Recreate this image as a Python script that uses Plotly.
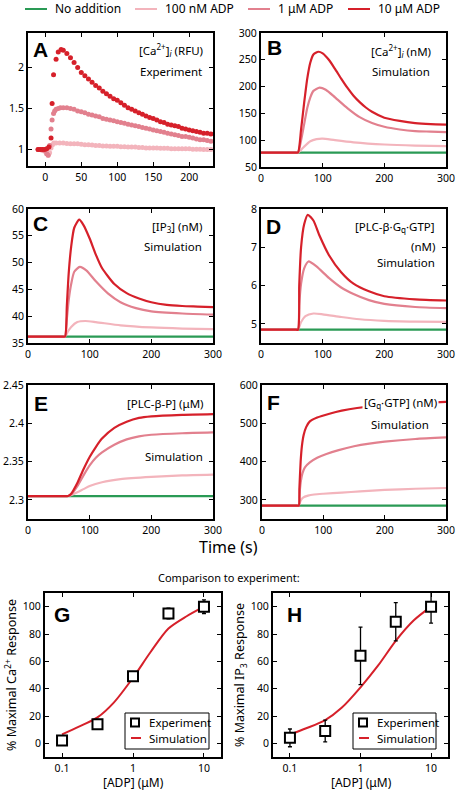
import plotly.graph_objects as go

W, H = 456, 790
FONT = "Noto Sans"

# ---------------- data ----------------
series_names = ["No addition", "100 nM ADP", "1 \u03bcM ADP", "10 \u03bcM ADP"]
series_colors = ["#2a9a55", "#f3b4bc", "#e2808e", "#d6202a"]

# Panel A: experiment [Ca2+]i (RFU)
a_t_100n = [-10, -7, -4, -1, 2, 4, 6, 8, 10, 12, 15, 20, 25, 30, 35, 40, 45, 50, 55, 60, 65, 70, 75, 80, 85, 90, 95, 100,
            105, 110, 115, 120, 125, 130, 135, 140, 145, 150, 155, 160, 165, 170, 175, 180, 185, 190, 195, 200,
            205, 210, 215, 220, 225, 230, 235]
a_v_100n = [1.0, 1.0, 0.99, 0.98, 0.95, 0.93, 0.96, 1.02, 1.06, 1.08, 1.08, 1.08, 1.08, 1.075, 1.07, 1.07, 1.07, 1.065,
            1.06, 1.06, 1.055, 1.05, 1.05, 1.045, 1.045, 1.04, 1.04, 1.04, 1.035, 1.035, 1.03, 1.03, 1.03, 1.025,
            1.025, 1.02, 1.02, 1.02, 1.02, 1.015, 1.015, 1.015, 1.01, 1.01, 1.01, 1.01, 1.01, 1.01, 1.005, 1.005,
            1.005, 1.0, 1.0, 1.0, 1.0]
a_t_1u = [-10, -7, -4, -1, 2, 4, 6, 8, 9.5, 11.5, 13, 15, 18, 21, 25, 30, 35, 40, 45, 50, 55, 60, 65, 70, 75, 80, 85, 90,
          95, 100, 105, 110, 115, 120, 125, 130, 135, 140, 145, 150, 155, 160, 165, 170, 175, 180, 185, 190, 195,
          200, 205, 210, 215, 220, 225, 230, 235]
a_v_1u = [1.0, 1.0, 1.0, 0.99, 0.95, 0.93, 1.05, 1.25, 1.36, 1.44, 1.47, 1.49, 1.50, 1.51, 1.51, 1.51, 1.50, 1.49,
          1.47, 1.46, 1.45, 1.43, 1.42, 1.41, 1.40, 1.38, 1.37, 1.36, 1.35, 1.34, 1.33, 1.32, 1.31, 1.30, 1.29,
          1.28, 1.27, 1.26, 1.25, 1.24, 1.23, 1.22, 1.21, 1.20, 1.19, 1.18, 1.17, 1.16, 1.16, 1.15, 1.14, 1.13,
          1.12, 1.12, 1.11, 1.10, 1.10]
a_t_10u = [-10, -7, -4, -1, 2, 5, 8, 9.5, 11.5, 15, 18, 22, 25, 30, 35, 40, 45, 50, 55, 60, 65, 70, 75, 80, 85, 90, 95,
           100, 105, 110, 115, 120, 125, 130, 135, 140, 145, 150, 155, 160, 165, 170, 175, 180, 185, 190, 195, 200,
           205, 210, 215, 220, 225, 230, 235]
a_v_10u = [1.0, 1.0, 1.0, 1.0, 1.01, 1.03, 1.14, 1.56, 1.91, 2.10, 2.19, 2.22, 2.21, 2.17, 2.12, 2.06, 2.00, 1.94,
           1.90, 1.86, 1.82, 1.78, 1.75, 1.71, 1.68, 1.65, 1.62, 1.60, 1.57, 1.54, 1.51, 1.49, 1.47, 1.45, 1.43,
           1.41, 1.39, 1.38, 1.36, 1.34, 1.33, 1.31, 1.30, 1.29, 1.28, 1.26, 1.25, 1.24, 1.23, 1.22, 1.21, 1.20,
           1.20, 1.19, 1.19]

# Panel B: simulated [Ca2+]i (nM)
b_t_none = [0, 300]
b_v_none = [77, 77]
b_t_100n = [0, 55, 60, 65, 70, 80, 90, 100, 120, 150, 200, 250, 300]
b_v_100n = [77, 77, 77, 82, 88, 98, 102, 103, 100, 96, 92, 90, 89]
b_t_1u = [0, 55, 60, 65, 70, 75, 80, 85, 95, 105, 120, 140, 160, 180, 200, 225, 250, 275, 300]
b_v_1u = [77, 77, 77, 100, 130, 160, 180, 192, 198, 194, 180, 160, 143, 132, 125, 120, 117, 116, 115]
b_t_10u = [0, 55, 60, 65, 70, 75, 80, 85, 93, 100, 110, 120, 130, 140, 150, 160, 170, 180, 200, 225, 250, 275, 300]
b_v_10u = [77, 77, 77, 120, 170, 215, 245, 260, 265, 262, 250, 233, 215, 198, 183, 171, 161, 153, 142, 136, 132,
           130, 129]

# Panel C: simulated [IP3] (nM)
c_t_none = [0, 300]
c_v_none = [36.2, 36.2]
c_t_100n = [0, 55, 60, 65, 70, 80, 93, 110, 150, 200, 250, 300]
c_v_100n = [36.2, 36.2, 36.2, 37.2, 38.0, 38.9, 39.1, 38.9, 38.3, 37.9, 37.7, 37.6]
c_t_1u = [0, 55, 60, 63, 66, 70, 75, 84, 95, 110, 130, 150, 175, 200, 250, 300]
c_v_1u = [36.2, 36.2, 36.2, 39.5, 43.0, 46.0, 48.3, 49.2, 48.5, 46.5, 44.2, 42.6, 41.5, 40.9, 40.5, 40.3]
c_t_10u = [0, 55, 60, 63, 66, 70, 75, 83, 90, 100, 110, 120, 140, 160, 180, 200, 225, 250, 275, 300]
c_v_10u = [36.2, 36.2, 36.2, 42.0, 48.0, 53.0, 56.5, 58.0, 57.0, 54.5, 51.5, 49.0, 46.0, 44.3, 43.3, 42.6, 42.1,
           41.9, 41.8, 41.7]

# Panel D: simulated [PLC-b.Gq.GTP] (nM)
d_t_none = [0, 300]
d_v_none = [4.85, 4.85]
d_t_100n = [0, 55, 60, 65, 72, 85, 100, 130, 160, 200, 250, 300]
d_v_100n = [4.85, 4.85, 4.85, 5.05, 5.20, 5.27, 5.25, 5.18, 5.12, 5.08, 5.06, 5.05]
d_t_1u = [0, 55, 60, 62, 65, 70, 77, 90, 110, 130, 150, 175, 200, 250, 300]
d_v_1u = [4.85, 4.85, 4.85, 5.50, 6.05, 6.45, 6.63, 6.50, 6.20, 5.95, 5.78, 5.62, 5.52, 5.44, 5.41]
d_t_10u = [0, 55, 60, 62, 65, 70, 76, 85, 95, 110, 130, 150, 175, 200, 250, 300]
d_v_10u = [4.85, 4.85, 4.85, 6.00, 7.00, 7.60, 7.85, 7.70, 7.30, 6.80, 6.35, 6.05, 5.85, 5.72, 5.64, 5.61]

# Panel E: simulated [PLC-b-P] (uM)
e_t_none = [0, 300]
e_v_none = [2.305, 2.305]
e_t_100n = [0, 60, 65, 75, 90, 100, 120, 150, 200, 250, 300]
e_v_100n = [2.305, 2.305, 2.305, 2.308, 2.314, 2.318, 2.323, 2.327, 2.330, 2.332, 2.333]
e_t_1u = [0, 60, 65, 70, 80, 90, 100, 110, 120, 140, 160, 180, 200, 250, 300]
e_v_1u = [2.305, 2.305, 2.305, 2.307, 2.318, 2.332, 2.345, 2.355, 2.362, 2.372, 2.379, 2.383, 2.385, 2.387, 2.388]
e_t_10u = [0, 60, 65, 70, 80, 90, 100, 110, 120, 140, 160, 180, 200, 250, 300]
e_v_10u = [2.305, 2.305, 2.305, 2.308, 2.322, 2.340, 2.356, 2.369, 2.380, 2.394, 2.402, 2.407, 2.409, 2.411, 2.412]

# Panel F: simulated [Gq.GTP] (nM)
f_t_none = [0, 300]
f_v_none = [285, 285]
f_t_100n = [0, 55, 60, 63, 67, 75, 85, 100, 130, 160, 200, 250, 300]
f_v_100n = [285, 285, 285, 298, 306, 311, 314, 316, 319, 322, 326, 329, 331]
f_t_1u = [0, 55, 60, 61, 63, 66, 70, 78, 90, 105, 125, 150, 175, 200, 250, 300]
f_v_1u = [285, 285, 285, 310, 345, 370, 385, 398, 410, 420, 430, 440, 447, 452, 459, 463]
f_t_10u = [0, 55, 60, 61, 63, 65, 68, 72, 78, 90, 110, 130, 155, 200, 250, 300]
f_v_10u = [285, 285, 285, 330, 400, 440, 470, 490, 505, 515, 525, 533, 540, 548, 553, 556]

# Panels G, H: dose response
adp_exp = [0.1, 0.316, 1.0, 3.16, 10.0]
g_exp = [2, 14, 49, 95, 100]
g_err = [1.5, 3.5, 3.5, 4, 5]
adp_sim = [0.1, 0.17, 0.316, 0.54, 1.0, 1.78, 3.16, 5.7, 10.0]
g_sim = [6.5, 12, 19, 30, 48, 67, 84, 93, 100]
h_exp = [4, 9, 64, 89, 100]
h_err = [6.5, 8, 21, 14, 12]
h_sim = [6.5, 11, 17, 26, 41, 57, 75, 90, 100]


# ---------------- helpers ----------------
def px(x):
    return x / W


def py(y):
    return 1 - y / H


fig = go.Figure()

panels = {
    "A": (1, (28, 213), (33, 166), [-24, 233], [0.8, 2.42], [1, 1.5, 2]),
    "B": (2, (261, 446), (33, 167), [0, 300], [50, 300], [50, 100, 150, 200, 250, 300]),
    "C": (3, (28, 213), (209, 343), [0, 300], [35, 60], [35, 40, 45, 50, 55, 60]),
    "D": (4, (261, 446), (209, 343), [0, 300], [4.5, 8], [5, 6, 7, 8]),
    "E": (5, (28, 213), (385, 519), [0, 300], [2.275, 2.45], [2.3, 2.35, 2.4, 2.45]),
    "F": (6, (262, 446), (385, 519), [0, 300], [250, 600], [300, 400, 500, 600]),
}

tickfont = dict(family=FONT, size=10.5, color="black")
axis_common = dict(ticks="inside", ticklen=4, tickwidth=1, tickcolor="black",
                   showline=True, linewidth=2, linecolor="black", mirror="ticks",
                   showgrid=False, zeroline=False)
layout_axes = {}
for name, (i, xr, yr, xrange_, yrange_, yt) in panels.items():
    sfx = "" if i == 1 else str(i)
    xt = [0, 50, 100, 150, 200] if name == "A" else [0, 100, 200, 300]
    layout_axes["xaxis" + sfx] = dict(
        domain=[px(xr[0]), px(xr[1])], range=xrange_, anchor="y" + sfx,
        tickvals=xt, tickfont=tickfont, **axis_common)
    layout_axes["yaxis" + sfx] = dict(
        domain=[py(yr[1]), py(yr[0])], range=yrange_, anchor="x" + sfx,
        tickvals=yt, tickfont=tickfont, **axis_common)

for i, xr, ytitle in [(7, (45, 221), "% Maximal Ca<sup>2+</sup> Response"),
                      (8, (273, 448), "% Maximal IP<sub>3</sub> Response")]:
    sfx = str(i)
    layout_axes["xaxis" + sfx] = dict(
        domain=[px(xr[0]), px(xr[1])], type="log", range=[-1.24, 1.24], anchor="y" + sfx,
        tickvals=[0.1, 1, 10], ticktext=["0.1", "1", "10"],
        tickfont=dict(family=FONT, size=10.5, color="black"),
        **axis_common)
    layout_axes["yaxis" + sfx] = dict(
        domain=[py(757), py(593)], range=[-10, 110], anchor="x" + sfx,
        tickvals=[0, 20, 40, 60, 80, 100],
        tickfont=dict(family=FONT, size=10.5, color="black"),
        title=dict(text=ytitle, font=dict(family=FONT, size=12.5, color="black"), standoff=3),
        **axis_common)

# ---------------- traces ----------------
for t, v, c, nm in [(a_t_100n, a_v_100n, series_colors[1], series_names[1]),
                    (a_t_1u, a_v_1u, series_colors[2], series_names[2]),
                    (a_t_10u, a_v_10u, series_colors[3], series_names[3])]:
    fig.add_trace(go.Scatter(x=t, y=v, mode="markers", marker=dict(size=5, color=c), name=nm,
                             xaxis="x", yaxis="y", showlegend=False))

sim = {
    2: [(b_t_none, b_v_none), (b_t_100n, b_v_100n), (b_t_1u, b_v_1u), (b_t_10u, b_v_10u)],
    3: [(c_t_none, c_v_none), (c_t_100n, c_v_100n), (c_t_1u, c_v_1u), (c_t_10u, c_v_10u)],
    4: [(d_t_none, d_v_none), (d_t_100n, d_v_100n), (d_t_1u, d_v_1u), (d_t_10u, d_v_10u)],
    5: [(e_t_none, e_v_none), (e_t_100n, e_v_100n), (e_t_1u, e_v_1u), (e_t_10u, e_v_10u)],
    6: [(f_t_none, f_v_none), (f_t_100n, f_v_100n), (f_t_1u, f_v_1u), (f_t_10u, f_v_10u)],
}
for i, lst in sim.items():
    for k, (t, v) in enumerate(lst):
        fig.add_trace(go.Scatter(
            x=t, y=v, mode="lines", line=dict(color=series_colors[k], width=2.2, shape="spline", smoothing=0.6),
            xaxis="x%d" % i, yaxis="y%d" % i, showlegend=False, name=series_names[k]))

for i, ev, ee, sv in [(7, g_exp, g_err, g_sim), (8, h_exp, h_err, h_sim)]:
    fig.add_trace(go.Scatter(
        x=adp_sim, y=sv, mode="lines", name="Simulation",
        line=dict(color="#d6202a", width=2, shape="spline", smoothing=0.8),
        xaxis="x%d" % i, yaxis="y%d" % i, showlegend=False))
    fig.add_trace(go.Scatter(
        x=adp_exp, y=ev, mode="markers", name="Experiment",
        error_y=dict(type="data", array=ee, color="black", thickness=1.3, width=2),
        marker=dict(symbol="square", size=10, color="white", line=dict(color="black", width=2)),
        xaxis="x%d" % i, yaxis="y%d" % i, showlegend=False))

# ---------------- annotations & legend decorations ----------------
ann = []
shapes = []


def txt(x, y, s, size=11.5, anchor="right", **kw):
    ann.append(dict(x=px(x), y=py(y), xref="paper", yref="paper", text=s, showarrow=False,
                    xanchor=anchor, yanchor="middle", font=dict(family=FONT, size=size, color="black"), **kw))


def letter(x, y, s):
    ann.append(dict(x=px(x), y=py(y), xref="paper", yref="paper", text="<b>%s</b>" % s, showarrow=False,
                    xanchor="left", yanchor="middle",
                    font=dict(family="Liberation Sans", size=21, color="black")))


def hline(x0, x1, y, color, width=2):
    shapes.append(dict(type="line", xref="paper", yref="paper", x0=px(x0), x1=px(x1), y0=py(y), y1=py(y),
                       line=dict(color=color, width=width)))


# top legend
for (x0, name, col) in zip([25, 135, 248, 348], series_names, series_colors):
    hline(x0, x0 + 22, 9, col, 2)
    txt(x0 + 28, 9, name, size=12, anchor="left")

# G/H legends
for (bx0, bx1) in [(125, 209), (353, 436)]:
    shapes.append(dict(type="rect", xref="paper", yref="paper", x0=px(bx0), x1=px(bx1), y0=py(749), y1=py(713),
                       line=dict(color="black", width=1), fillcolor="white", layer="above"))
    sq = bx0 + 10
    shapes.append(dict(type="rect", xref="paper", yref="paper", x0=px(sq - 4), x1=px(sq + 4),
                       y0=py(726.5), y1=py(718.5), line=dict(color="black", width=2), fillcolor="white",
                       layer="above"))
    hline(bx0 + 6, bx0 + 16, 738, "#d6202a", 2)
    txt(bx0 + 22, 722, "Experiment", size=11.5, anchor="left")
    txt(bx0 + 22, 738, "Simulation", size=11.5, anchor="left")

letter(31, 49, "A")
letter(265, 48, "B")
letter(31, 224, "C")
letter(264, 227, "D")
letter(32, 403, "E")
letter(265, 402, "F")
letter(52, 614, "G")
letter(285, 614, "H")

txt(205, 50, "[Ca<sup>2+</sup>]<sub><i>i</i></sub> (RFU)")
txt(204, 71, "Experiment")
txt(433, 51, "[Ca<sup>2+</sup>]<sub><i>i</i></sub> (nM)")
txt(432, 71, "Simulation")
txt(204, 227, "[IP<sub>3</sub>] (nM)")
txt(204, 246, "Simulation")
txt(437, 227, "[PLC-\u03b2\u00b7G<sub>q</sub>\u00b7GTP]")
txt(437, 246, "(nM)")
txt(437, 262, "Simulation")
txt(206, 403, "[PLC-\u03b2-P] (\u03bcM)")
txt(205, 456, "Simulation")
txt(439, 403, "[G<sub>q</sub>\u00b7GTP] (nM)", bgcolor="white", borderpad=1)
txt(431, 424, "Simulation")
txt(229, 547, "Time (s)", size=16, anchor="center")
txt(229, 577, "Comparison to experiment:", size=11, anchor="center")
txt(133, 782.5, "[ADP] (\u03bcM)", size=12, anchor="center")
txt(361, 782.5, "[ADP] (\u03bcM)", size=12, anchor="center")

fig.update_layout(
    width=W, height=H, margin=dict(l=0, r=0, t=0, b=0, autoexpand=False),
    paper_bgcolor="white", plot_bgcolor="white",
    font=dict(family=FONT, color="black"),
    showlegend=False,
    annotations=ann, shapes=shapes,
    **layout_axes,
)

fig.write_html("out.html", config={"displayModeBar": False},
               post_script="document.body.style.margin='0';")
